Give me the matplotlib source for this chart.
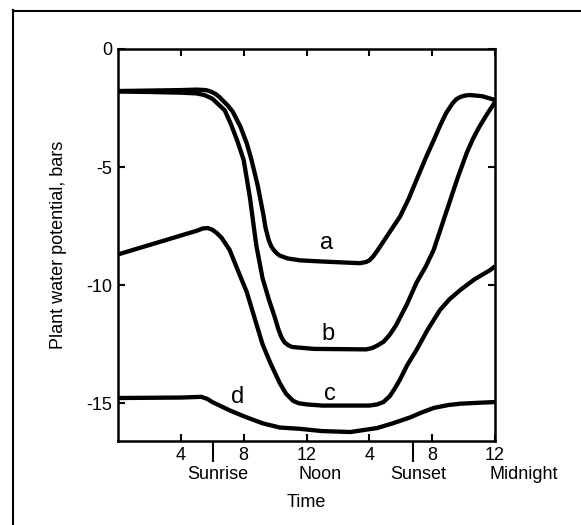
import matplotlib
matplotlib.use("Agg")
import matplotlib.pyplot as plt
from matplotlib.lines import Line2D

plt.rcParams['font.family'] = ['Liberation Sans', 'DejaVu Sans']

# ---- data (hours after midnight, water potential in bars) ----
a_hours = [0, 2, 4, 5, 5.6, 5.9, 6.2, 6.45, 6.7, 7.0, 7.3, 7.8, 8.2, 8.5, 8.9, 9.25,
           9.4, 9.6, 9.75, 9.9, 10.1, 10.3, 10.8, 11.6, 13, 15.4, 15.8, 16.0, 16.25,
           16.5, 17.2, 17.95, 18.5, 19.0, 19.6, 20.1, 20.5, 20.9, 21.3, 21.55, 21.8,
           22.1, 22.4, 23.2, 24]
a_vals = [-1.78, -1.76, -1.74, -1.72, -1.74, -1.8, -1.9, -2.03, -2.2, -2.4, -2.65,
          -3.3, -4.0, -4.7, -5.8, -7.0, -7.6, -8.1, -8.35, -8.5, -8.65, -8.75, -8.87,
          -8.95, -9.0, -9.07, -9.02, -8.95, -8.78, -8.55, -7.85, -7.1, -6.35, -5.55,
          -4.6, -3.86, -3.25, -2.7, -2.3, -2.12, -2.03, -1.97, -1.95, -2.0, -2.16]

b_hours = [0, 2, 4, 5, 5.5, 6.0, 6.4, 6.8, 7.2, 7.6, 8.0, 8.4, 8.8, 9.2, 9.6, 10.0,
           10.2, 10.4, 10.6, 10.85, 11.1, 12.5, 15.8, 16.2, 16.5, 16.9, 17.3, 17.7,
           18.4, 19.0, 19.6, 20.1, 20.6, 21.1, 21.6, 22.2, 22.6, 23.0, 23.5, 24]
b_vals = [-1.8, -1.82, -1.85, -1.88, -1.95, -2.1, -2.35, -2.6, -3.2, -3.9, -4.7, -6.3,
          -8.3, -9.7, -10.6, -11.4, -11.85, -12.2, -12.42, -12.55, -12.62, -12.7,
          -12.72, -12.66, -12.56, -12.4, -12.1, -11.7, -10.8, -9.9, -9.2, -8.5, -7.5,
          -6.5, -5.5, -4.4, -3.8, -3.3, -2.75, -2.25]

c_hours = [0, 1, 2, 3, 4, 5, 5.4, 5.7, 6.0, 6.3, 6.6, 7.1, 7.8, 8.2, 8.7, 9.2, 9.7,
           10.3, 10.7, 11.15, 11.5, 12, 13, 16.0, 16.5, 16.9, 17.3, 17.6, 17.95, 18.4,
           19.0, 19.7, 20.5, 21.1, 21.8, 22.7, 23.7, 24]
c_vals = [-8.7, -8.5, -8.3, -8.1, -7.9, -7.7, -7.6, -7.58, -7.65, -7.8, -8.0, -8.5,
          -9.65, -10.3, -11.4, -12.5, -13.3, -14.15, -14.6, -14.9, -15.0, -15.05,
          -15.1, -15.1, -15.05, -14.95, -14.7, -14.4, -14.0, -13.4, -12.75, -11.9,
          -11.05, -10.6, -10.2, -9.75, -9.36, -9.2]

d_hours = [0, 2, 4, 5.3, 5.7, 6.0, 7.1, 8.0, 9.2, 10.3, 11.5, 13, 14.8, 16.5, 17.5,
           18.6, 19.3, 20.1, 21.0, 21.8, 23, 24]
d_vals = [-14.78, -14.77, -14.76, -14.73, -14.82, -14.95, -15.3, -15.55, -15.85,
          -16.03, -16.08, -16.18, -16.22, -16.05, -15.85, -15.6, -15.4, -15.2, -15.08,
          -15.02, -14.98, -14.95]

curve_labels = ['a', 'b', 'c', 'd']
label_pos = [(13.3, -8.2), (13.4, -12.05), (13.5, -14.6), (7.6, -14.75)]

x_ticks = [4, 8, 12, 16, 20, 24]
x_ticklabels = ['4', '8', '12', '4', '8', '12']
y_ticks = [0, -5, -10, -15]
y_ticklabels = ['0', '-5', '-10', '-15']
event_hours = [6.05, 18.8]
event_names = ['Sunrise', 'Noon', 'Sunset', 'Midnight']
event_label_x = [6.37, 12.86, 19.1, 25.8]

# ---- figure ----
fig = plt.figure(figsize=(5.81, 5.25), dpi=100)
ax = fig.add_axes([118/581, 1-441/525, 377/581, 392/525])

for hx, vy in [(a_hours, a_vals), (b_hours, b_vals), (c_hours, c_vals), (d_hours, d_vals)]:
    ax.plot(hx, vy, color='black', lw=3.1, solid_joinstyle='round', solid_capstyle='butt')

for lab, (lx, ly) in zip(curve_labels, label_pos):
    ax.text(lx, ly, lab, fontsize=17, ha='center', va='center')

ax.set_xlim(0, 24)
ax.set_ylim(-16.6, 0)
ax.set_xticks(x_ticks)
ax.set_xticklabels(x_ticklabels)
ax.set_yticks(y_ticks)
ax.set_yticklabels(y_ticklabels)
ax.set_xticks(event_hours, minor=True)

ax.tick_params(which='major', direction='in', length=5, width=1.5,
               top=True, right=True, labelsize=13, pad=4)
ax.tick_params(axis='x', which='minor', direction='out', length=15, width=1.5,
               top=False, bottom=True)
for s in ax.spines.values():
    s.set_linewidth(1.8)

for name, ex in zip(event_names, event_label_x):
    ax.text(ex, -0.085, name, transform=ax.get_xaxis_transform(), fontsize=13,
            ha='center', va='center', clip_on=False)

ax.set_xlabel('Time', fontsize=13)
ax.xaxis.set_label_coords(0.5, -0.158)
ax.set_ylabel('Plant water potential, bars', fontsize=13)
ax.yaxis.set_label_coords(-0.159, 0.5)
ax.xaxis.label.set_va('center')
ax.yaxis.label.set_va('center')

# outer frame (left and top edges)
fx = 13/581
fig.add_artist(Line2D([fx, fx], [1-10/525, 0], transform=fig.transFigure, color='black', lw=1.5))
fig.add_artist(Line2D([fx, 1], [1-11/525, 1-11/525], transform=fig.transFigure, color='black', lw=1.5))

fig.savefig('out.png', dpi=100)
